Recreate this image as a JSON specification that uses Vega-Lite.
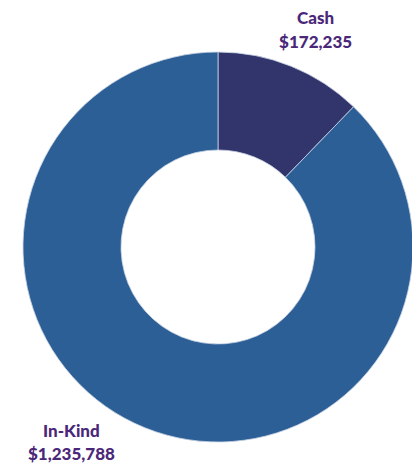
{
  "$schema": "https://vega.github.io/schema/vega-lite/v6.json",
  "width": 388,
  "height": 436,
  "autosize": {"type": "none"},
  "padding": {"left": 24, "top": 29, "right": 0, "bottom": 0},
  "background": "white",
  "view": {"stroke": null},
  "data": {
    "values": [
      {"category": "Cash", "value": 172235, "label": "Cash\n$172,235"},
      {"category": "In-Kind", "value": 1235788, "label": "In-Kind\n$1,235,788"}
    ]
  },
  "encoding": {
    "theta": {"field": "value", "type": "quantitative", "stack": true},
    "order": {"field": "category", "sort": "ascending"}
  },
  "layer": [
    {
      "mark": {"type": "arc", "outerRadius": 195, "innerRadius": 97, "stroke": "#c9d3e3", "strokeWidth": 0.8},
      "encoding": {
        "color": {
          "field": "category",
          "type": "nominal",
          "scale": {"domain": ["Cash", "In-Kind"], "range": ["#31356b", "#2d5f97"]},
          "legend": null
        }
      }
    },
    {
      "mark": {"type": "text", "radius": 239, "dx": 8, "dy": -6, "lineBreak": "\n", "lineHeight": 24, "font": "Lato", "fontWeight": 900, "fontSize": 17, "color": "#4a2778", "align": "center", "baseline": "middle"},
      "encoding": {
        "text": {"condition": {"test": "datum.category === 'Cash'", "field": "label"}, "value": ""}
      }
    },
    {
      "mark": {"type": "text", "radius": 239, "dx": -57, "dy": -37, "lineBreak": "\n", "lineHeight": 23, "font": "Lato", "fontWeight": 900, "fontSize": 17, "color": "#4a2778", "align": "center", "baseline": "middle"},
      "encoding": {
        "text": {"condition": {"test": "datum.category === 'In-Kind'", "field": "label"}, "value": ""}
      }
    }
  ]
}
